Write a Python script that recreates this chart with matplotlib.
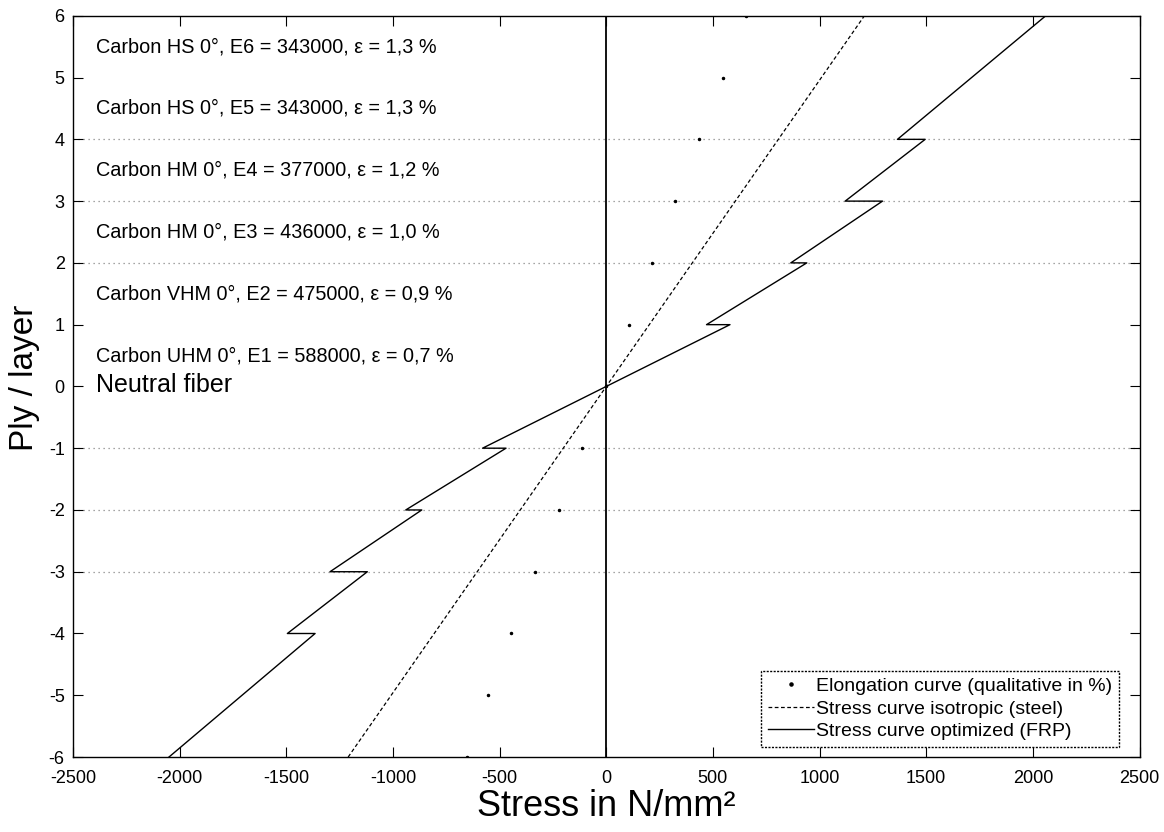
import matplotlib
matplotlib.use("Agg")
import matplotlib.pyplot as plt

plt.rcParams['font.family'] = ['Liberation Sans', 'DejaVu Sans']
plt.rcParams['axes.unicode_minus'] = False

# FRP optimized stress curve (stress, ply)
frp_stress = [-2050, -1365, -1495, -1120, -1295, -865, -940, -470, -580, 0,
              580, 470, 940, 865, 1295, 1120, 1495, 1365, 2060]
frp_ply = [-6, -4, -4, -3, -3, -2, -2, -1, -1, 0,
           1, 1, 2, 2, 3, 3, 4, 4, 6]

# isotropic steel stress curve
steel_stress = [-1210, 0, 1210]
steel_ply = [-6, 0, 6]

# elongation curve (qualitative)
elong_x = [-655, -553, -445, -334, -220, -112, 0, 105, 215, 323, 436, 548, 655]
elong_y = [-6, -5, -4, -3, -2, -1, 0, 1, 2, 3, 4, 5, 6]

grid_levels = [4, 3, 2, -1, -2, -3]

labels = ["Carbon HS 0°, E6 = 343000, ε = 1,3 %",
          "Carbon HS 0°, E5 = 343000, ε = 1,3 %",
          "Carbon HM 0°, E4 = 377000, ε = 1,2 %",
          "Carbon HM 0°, E3 = 436000, ε = 1,0 %",
          "Carbon VHM 0°, E2 = 475000, ε = 0,9 %",
          "Carbon UHM 0°, E1 = 588000, ε = 0,7 %"]
label_y = [5.5, 4.5, 3.5, 2.5, 1.5, 0.5]

xticks = [-2500, -2000, -1500, -1000, -500, 0, 500, 1000, 1500, 2000, 2500]
yticks = [-6, -5, -4, -3, -2, -1, 0, 1, 2, 3, 4, 5, 6]

fig = plt.figure(figsize=(11.64, 8.32), dpi=100)
ax = fig.add_axes([0.0627, 0.0901, 0.9163, 0.8909])

for g in grid_levels:
    ax.axhline(g, color='#888888', lw=0.9, ls=(0, (1, 3)), zorder=1)
ax.axvline(0, color='black', lw=1.3, zorder=2)

ax.plot(elong_x, elong_y, ls='none', marker='.', ms=3, color='black',
        label='Elongation curve (qualitative in %)', zorder=3)
ax.plot(steel_stress, steel_ply, ls=(0, (3, 2)), lw=0.9, color='black',
        label='Stress curve isotropic (steel)', zorder=3)
ax.plot(frp_stress, frp_ply, ls='-', lw=1.0, color='black',
        label='Stress curve optimized (FRP)', zorder=3)

for t, yy in zip(labels, label_y):
    ax.text(-2390, yy, t, fontsize=14.3, va='center', ha='left')
ax.text(-2390, 0.02, "Neutral fiber", fontsize=18, va='center', ha='left')

ax.set_xlim(-2500, 2500)
ax.set_ylim(-6, 6)
ax.set_xticks(xticks)
ax.set_yticks(yticks)
ax.tick_params(direction='in', length=7, top=True, right=True, labelsize=13,
               width=0.8)
ax.tick_params(axis='x', pad=9)
ax.tick_params(axis='y', pad=6)
for sp in ax.spines.values():
    sp.set_linestyle((0, (1.5, 1)))
    sp.set_linewidth(1.0)

ax.set_xlabel("Stress in N/mm²", fontsize=26, labelpad=2)
ax.set_ylabel("Ply / layer", fontsize=24, labelpad=4)
ax.yaxis.set_label_coords(-0.031, 0.511)

leg = ax.legend(loc='lower right', bbox_to_anchor=(0.981, 0.0135),
                borderaxespad=0, fontsize=14, handlelength=2.4,
                handletextpad=0.1, borderpad=0.35, labelspacing=0.25,
                fancybox=False, framealpha=1, edgecolor='black',
                markerscale=1.5)
leg.get_frame().set_linestyle((0, (1.5, 1)))
leg.get_frame().set_linewidth(1.0)

fig.savefig("out.png", dpi=100)
